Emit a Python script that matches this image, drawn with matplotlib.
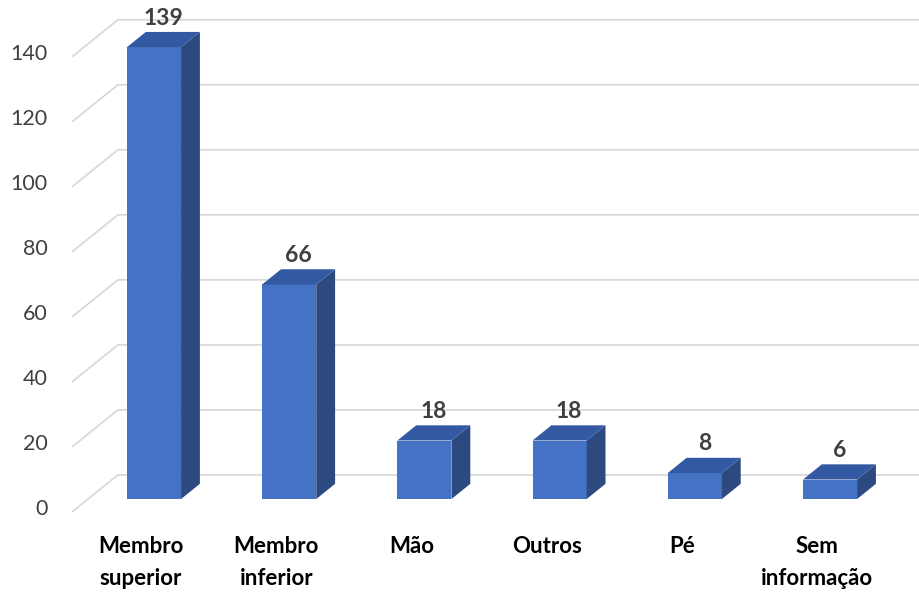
import matplotlib
matplotlib.use("Agg")
import matplotlib.pyplot as plt
from matplotlib.patches import Polygon

plt.rcParams['font.family'] = ['Lato', 'DejaVu Sans']

# data
categories = ["Membro\nsuperior", "Membro\ninferior", "Mão", "Outros", "Pé", "Sem\ninformação"]
values = [139, 66, 18, 18, 8, 6]
yticks = [0, 20, 40, 60, 80, 100, 120, 140]

# 3d look (data units)
depth_x, depth_y = 0.34, 11.4     # full floor depth
bar_w = 0.40
bar_frac = 0.41                   # bar depth as fraction of floor depth
front_frac = 0.35                 # bar front sits this far behind the floor front

front_c = "#4472C4"
side_c = "#2C4A80"
top_c = "#3359A3"
grid_c = "#D9D9D9"

fig = plt.figure(figsize=(9.19, 5.92), dpi=100)
ax = fig.add_axes([0, 0, 1, 1])
ax.set_xlim(-1.139, 5.658)
ax.set_ylim(-28.6, 153.5)
ax.axis("off")

# gridlines: diagonal on the left wall, then flat along the back
gx0 = -0.607
fx, fy = -front_frac * depth_x, -front_frac * depth_y
for t in yticks:
    y_front = t + fy
    y_back = y_front + depth_y
    ax.plot([gx0, gx0 + depth_x, 6], [y_front, y_back, y_back],
            color=grid_c, lw=1.3, solid_capstyle="butt", zorder=1)
    ax.text(gx0 - 0.18, y_front + 1.0, str(t), ha="right", va="center",
            fontsize=15.5, color="#404040")

bdx, bdy = bar_frac * depth_x, bar_frac * depth_y
for i, (lab, v) in enumerate(zip(categories, values)):
    l, r = i - bar_w / 2, i + bar_w / 2
    ax.add_patch(Polygon([(l, 0), (r, 0), (r, v), (l, v)], closed=True,
                         fc=front_c, ec="none", zorder=3))
    ax.add_patch(Polygon([(r, 0), (r + bdx, bdy), (r + bdx, v + bdy), (r, v)],
                         closed=True, fc=side_c, ec="none", zorder=3))
    ax.add_patch(Polygon([(l, v), (r, v), (r + bdx, v + bdy), (l + bdx, v + bdy)],
                         closed=True, fc=top_c, ec="none", zorder=3))
    ax.text(i + bdx / 2, v + bdy / 2 + 6.6, str(v), ha="center", va="center",
            fontsize=16.5, fontweight="bold", color="#404040", zorder=4)
    ax.text(i - 0.096, -11.5, lab, ha="center", va="top", fontsize=16,
            fontweight="bold", color="black", linespacing=1.62)

fig.savefig("out.png", dpi=100)
